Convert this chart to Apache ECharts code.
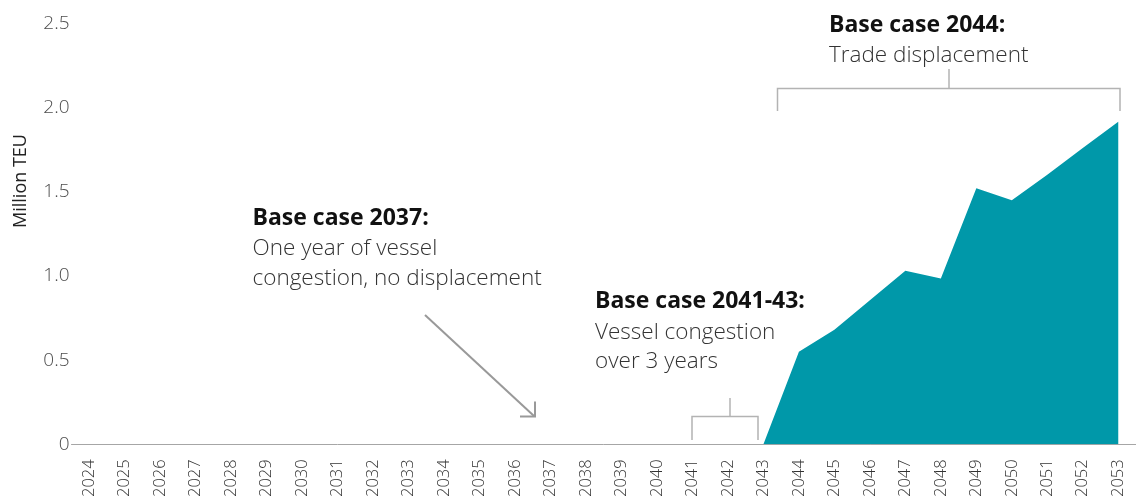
<!DOCTYPE html>
<html>
<head>
<meta charset="utf-8">
<title>Displaced trade</title>
<script src="https://cdn.jsdelivr.net/npm/echarts@6/dist/echarts.min.js"></script>
<style>
  html, body { margin: 0; padding: 0; background: #ffffff; }
  #chart { width: 1136px; height: 500px; }
</style>
</head>
<body>
<div id="chart"></div>
<script>
// Years on the horizontal axis
const years = [
  '2024', '2025', '2026', '2027', '2028', '2029', '2030', '2031', '2032', '2033',
  '2034', '2035', '2036', '2037', '2038', '2039', '2040', '2041', '2042', '2043',
  '2044', '2045', '2046', '2047', '2048', '2049', '2050', '2051', '2052', '2053'
];

// Displaced trade, million TEU ('-' = no displacement yet)
const displaced = [
  '-', '-', '-', '-', '-', '-', '-', '-', '-', '-',
  '-', '-', '-', '-', '-', '-', '-', '-', '-', 0,
  0.55, 0.68, 0.855, 1.03, 0.985, 1.52, 1.45, 1.60, 1.76, 1.915
];

// Vertical axis ticks
const yTicks = [0, 0.5, 1.0, 1.5, 2.0, 2.5];

const FONT = '"Open Sans", "Noto Sans", sans-serif';
const TEAL = '#0098a9';
const GUIDE = '#b3b3b3';

const chart = echarts.init(document.getElementById('chart'), null, { renderer: 'canvas' });

function line(x1, y1, x2, y2, color, width) {
  return {
    type: 'line',
    shape: { x1: x1, y1: y1, x2: x2, y2: y2 },
    style: { stroke: color, lineWidth: width },
    silent: true
  };
}

function polyline(points, color, width) {
  return {
    type: 'polyline',
    shape: { points: points },
    style: { stroke: color, lineWidth: width, fill: null },
    silent: true
  };
}

// Annotation text placed by its baseline; text boxes are top-anchored,
// so the top is moved up by roughly 0.81 of the font size.
function text(x, baseline, str, opts) {
  const style = Object.assign({
    text: str,
    fontFamily: FONT,
    fontSize: 22.5,
    fontWeight: 300,
    fill: '#333333',
    align: 'left',
    verticalAlign: 'top'
  }, opts || {});
  return {
    type: 'text',
    x: x,
    y: baseline - 0.81 * style.fontSize,
    style: style,
    silent: true
  };
}

const BOLD = { fontWeight: 'bold', fontSize: 23, fill: '#111111' };

const option = {
  animation: false,
  backgroundColor: '#ffffff',
  grid: { left: 71.5, right: -6.8, top: 23.3, bottom: 55, containLabel: false },
  xAxis: {
    type: 'category',
    data: years,
    boundaryGap: true,
    axisLine: { show: true, lineStyle: { color: '#a6a6a6', width: 1 } },
    axisTick: { show: false },
    axisLabel: {
      interval: 0,
      rotate: 90,
      margin: 15,
      fontFamily: FONT,
      fontSize: 16.5,
      fontWeight: 300,
      color: '#333333'
    },
    splitLine: { show: false }
  },
  yAxis: {
    type: 'value',
    min: yTicks[0],
    max: yTicks[yTicks.length - 1],
    interval: yTicks[1] - yTicks[0],
    axisLine: { show: false },
    axisTick: { show: false },
    splitLine: { show: false },
    axisLabel: {
      margin: 2,
      fontFamily: FONT,
      fontSize: 19,
      fontWeight: 300,
      color: '#4d4d4d',
      formatter: function (v) { return v === 0 ? '0' : v.toFixed(1); }
    }
  },
  series: [{
    name: 'Displaced trade',
    type: 'line',
    data: displaced,
    symbol: 'none',
    connectNulls: false,
    lineStyle: { width: 0 },
    areaStyle: { color: TEAL, opacity: 1 },
    silent: true
  }],
  graphic: [
    // Axis title
    {
      type: 'text',
      x: 21,
      y: 181,
      rotation: Math.PI / 2,
      style: {
        text: 'Million TEU',
        fontFamily: FONT,
        fontSize: 18,
        fill: '#222222',
        align: 'center',
        verticalAlign: 'middle'
      },
      silent: true
    },

    // 2044 note and bracket
    text(829, 32.5, 'Base case 2044:', BOLD),
    text(829, 62, 'Trade displacement'),
    line(949, 69, 949, 88.5, GUIDE, 1.5),
    polyline([[777.5, 111], [777.5, 88.5], [1120, 88.5], [1120, 111]], GUIDE, 1.5),

    // 2037 note and arrow
    text(252.5, 226, 'Base case 2037:', BOLD),
    text(252.5, 255.5, 'One year of vessel'),
    text(252.5, 285, 'congestion, no displacement'),
    line(425, 315, 534, 416, '#999999', 2),
    polyline([[520, 416.5], [535, 416.5], [535, 401.5]], '#999999', 2),

    // 2041-43 note and bracket
    text(595, 309, 'Base case 2041-43:', BOLD),
    text(595, 339, 'Vessel congestion'),
    text(595, 368, 'over 3 years'),
    line(730, 398, 730, 416.5, GUIDE, 1.5),
    polyline([[692, 440], [692, 416.5], [758, 416.5], [758, 440]], GUIDE, 1.5),

    // Label inside the area
    text(873.5, 359, 'Displaced trade', { fontWeight: 'bold', fontSize: 23, fill: '#ffffff' }),
    text(872.5, 388, '(12.3 million TEUS)', { fill: '#ffffff', fontWeight: 'normal' })
  ]
};

chart.setOption(option);
</script>
</body>
</html>
